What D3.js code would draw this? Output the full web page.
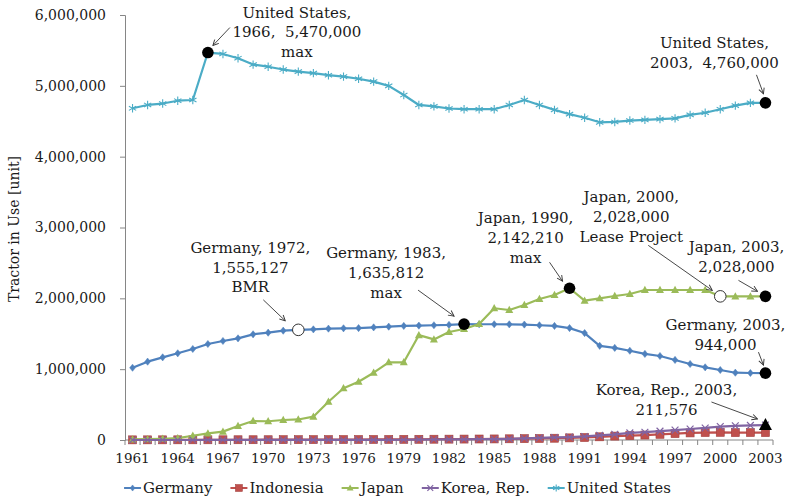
<!DOCTYPE html>
<html>
<head>
<meta charset="utf-8">
<script src="https://cdn.jsdelivr.net/npm/d3@7"></script>
<style>
  html, body { margin: 0; padding: 0; background: #fff; }
  svg { display: block; font-family: "DejaVu Serif", "Liberation Serif", serif; }
  .ann { white-space: pre; }
</style>
</head>
<body>
<svg id="chart" width="791" height="503"></svg>
<script>
// ---------------- data ----------------
const years = d3.range(1961, 2004);
const xTickYears = [1961,1964,1967,1970,1973,1976,1979,1982,1985,1988,1991,1994,1997,2000,2003];
const yTicks = [0,1000000,2000000,3000000,4000000,5000000,6000000];

const germany = [1020000,1106000,1167000,1224000,1285000,1355000,1398000,1435000,1492000,1515000,
  1543000,1555127,1562000,1572000,1577000,1580000,1590000,1600000,1610000,1615000,
  1620000,1625000,1635812,1634000,1634000,1633000,1630000,1620000,1610000,1580000,
  1510000,1330000,1300000,1260000,1215000,1186000,1130000,1073000,1026000,988000,
  950000,946000,944000];
const indonesia = [2000,2200,2400,2600,2800,3000,3200,3500,3800,4000,
  4500,5000,5500,6000,6500,7000,7500,8000,9000,10000,
  11000,12000,13000,14000,15000,17000,19000,21000,25000,30000,
  35000,45000,55000,62000,70000,80000,90000,100000,105000,108000,
  104000,105000,104000];
const japan = [8000,12000,18000,26000,60000,94000,118000,198000,268000,265000,
  282000,290000,329000,540000,730000,823000,950000,1097000,1097000,1480000,
  1420000,1525000,1567000,1638000,1860000,1835000,1906000,1990000,2047000,2142210,
  1967000,2000000,2033000,2061000,2118000,2118000,2118000,2118000,2118000,2028000,
  2028000,2028000,2028000];
const korea = [0,0,100,200,300,400,500,600,700,800,
  900,1000,1200,1400,600,800,1600,2400,3300,5000,
  7000,9000,10000,11000,12389,16000,22000,30000,36000,41203,
  50000,65000,80000,100000,110000,125000,140000,155000,170000,190000,
  200000,206000,211576];
const unitedStates = [4683000,4730000,4750000,4790000,4800000,5470000,5450000,5390000,5300000,5270000,
  5230000,5200000,5180000,5150000,5130000,5100000,5060000,5000000,4870000,4730000,
  4710000,4680000,4670000,4670000,4670000,4730000,4800000,4730000,4660000,4600000,
  4550000,4485000,4490000,4510000,4520000,4530000,4540000,4590000,4620000,4670000,
  4720000,4760000,4760000];

const seriesNames = ["Germany","Indonesia","Japan","Korea, Rep.","United States"];
const seriesValues = [germany, indonesia, japan, korea, unitedStates];
const seriesColors = ["#4F81BD","#C0504D","#9BBB59","#8064A2","#4BACC6"];
const seriesMarkers = ["diamond","square","triangle","x","star"];

// annotation texts (attached to data points)
const annotations = [
  {s:4, year:1966, lines:["United States,","1966,  5,470,000","max"], mark:"dot",
   dx:89, dy:-35, a:[22,-25,5,-7]},
  {s:4, year:2003, lines:["United States,","2003,  4,760,000"], mark:"dot",
   dx:-51, dy:-55, a:[-9,-28,-2,-9]},
  {s:0, year:1972, lines:["Germany, 1972,","1,555,127","BMR"], mark:"open",
   dx:-48, dy:-77, a:[-35,-30,-13,-9]},
  {s:0, year:1983, lines:["Germany, 1983,","1,635,812","max"], mark:"dot",
   dx:-78, dy:-66, a:[-46,-34,-10,-8]},
  {s:2, year:1990, lines:["Japan, 1990,","2,142,210","max"], mark:"dot",
   dx:-44, dy:-65, a:[-20,-26,-7,-7]},
  {s:2, year:2000, lines:["Japan, 2000,","2,028,000","Lease Project"], mark:"open",
   dx:-89, dy:-94, a:[-72,-51,-8,-6]},
  {s:2, year:2003, lines:["Japan, 2003,","2,028,000"], mark:"dot",
   dx:-29, dy:-44, a:[-27,-16,-8,-5]},
  {s:0, year:2003, lines:["Germany, 2003,","944,000"], mark:"dot",
   dx:-40, dy:-43, a:[-7,-21,-2,-8]},
  {s:3, year:2003, lines:["Korea, Rep., 2003,","211,576"], mark:"tri",
   dx:-99, dy:-30, a:[-54,-23,-8,-6]}
];

// ---------------- layout ----------------
const svg = d3.select("#chart");
const plot = {left:125, right:773, top:15, bottom:440};

const x = d3.scalePoint().domain(years).range([plot.left, plot.right]).padding(0.5);
const xBand = d3.scaleBand().domain(years).range([plot.left, plot.right]);
const y = d3.scaleLinear().domain([0, 6000000]).range([plot.bottom, plot.top]);

const axisColor = "#868686";
const textColor = "#1a1a1a";

// y axis
const yAxis = svg.append("g").attr("transform", `translate(${plot.left},0)`)
  .call(d3.axisLeft(y).tickValues(yTicks).tickFormat(d3.format(",")).tickSize(5).tickPadding(14));
yAxis.select(".domain").attr("stroke", axisColor).attr("stroke-width", 1);
yAxis.selectAll(".tick line").attr("stroke", axisColor);
yAxis.selectAll(".tick text").attr("fill", textColor).style("font-size", "14px")
  .style("font-family", '"DejaVu Serif", serif');

// x axis (category axis with boundary ticks)
const xg = svg.append("g").attr("transform", `translate(0,${plot.bottom})`);
xg.append("line").attr("x1", plot.left).attr("x2", plot.right).attr("y1", 0).attr("y2", 0)
  .attr("stroke", axisColor);
const boundaries = years.map(yr => xBand(yr)).concat([plot.right]);
xg.selectAll("line.tk").data(boundaries).join("line").attr("class","tk")
  .attr("x1", d => d).attr("x2", d => d).attr("y1", 0).attr("y2", 5).attr("stroke", axisColor);
xg.selectAll("text").data(xTickYears).join("text")
  .attr("x", d => x(d)).attr("y", 23).attr("text-anchor", "middle")
  .attr("fill", textColor).style("font-size", "13.5px").text(d => d);

// y title
svg.append("text").attr("transform", "translate(19,229) rotate(-90)")
  .attr("text-anchor", "middle").attr("fill", textColor).style("font-size", "14px")
  .text("Tractor in Use [unit]");

// marker drawing
function drawMarker(g, type, color, size) {
  const s = size;
  if (type === "diamond") {
    g.append("path").attr("d", `M0,${-s}L${s*0.8},0L0,${s}L${-s*0.8},0Z`).attr("fill", color).attr("stroke", color).attr("stroke-width", 0.5);
  } else if (type === "square") {
    g.append("rect").attr("x", -s).attr("y", -s).attr("width", 2*s).attr("height", 2*s)
      .attr("fill", color).attr("stroke", "#A33F3C").attr("stroke-width", 0.6);
  } else if (type === "triangle") {
    g.append("path").attr("d", `M0,${-s*1.1}L${s*1.05},${s*0.8}L${-s*1.05},${s*0.8}Z`).attr("fill", color);
  } else if (type === "x") {
    g.append("path").attr("d", `M${-s},${-s}L${s},${s}M${-s},${s}L${s},${-s}`).attr("stroke", color).attr("stroke-width", 1.2).attr("fill", "none");
  } else if (type === "star") {
    g.append("path").attr("d", `M0,${-s}L0,${s}M${-s*0.87},${-s*0.5}L${s*0.87},${s*0.5}M${-s*0.87},${s*0.5}L${s*0.87},${-s*0.5}`)
      .attr("stroke", color).attr("stroke-width", 1.1).attr("fill", "none");
  }
}
const markerSizes = {diamond:3.6, square:4, triangle:3.8, x:3.4, star:4.2};

seriesValues.forEach((vals, si) => {
  const color = seriesColors[si];
  svg.append("path").datum(vals).attr("d", d3.line().x((d,i)=>x(years[i])).y(d=>y(d)))
    .attr("fill", "none").attr("stroke", color).attr("stroke-width", 2.2)
    .attr("stroke-linejoin", "round");
  vals.forEach((v, i) => {
    const g = svg.append("g").attr("transform", `translate(${x(years[i])},${y(v)})`);
    drawMarker(g, seriesMarkers[si], color, markerSizes[seriesMarkers[si]]);
  });
});

// arrowhead
svg.append("defs").append("marker").attr("id", "arr")
  .attr("viewBox", "0 0 10 10").attr("refX", 9).attr("refY", 5)
  .attr("markerWidth", 7).attr("markerHeight", 7).attr("markerUnits", "userSpaceOnUse")
  .attr("orient", "auto")
  .append("path").attr("d", "M1,1L9,5L1,9").attr("fill", "none").attr("stroke", "#333").attr("stroke-width", 1.3);

// annotations
annotations.forEach(a => {
  const i = years.indexOf(a.year);
  const px = x(a.year), py = y(seriesValues[a.s][i]);
  if (a.mark === "dot") {
    svg.append("circle").attr("cx", px).attr("cy", py).attr("r", 5.8).attr("fill", "#000");
  } else if (a.mark === "open") {
    svg.append("circle").attr("cx", px).attr("cy", py).attr("r", 5.8).attr("fill", "#fff")
      .attr("stroke", "#333").attr("stroke-width", 1);
  } else if (a.mark === "tri") {
    svg.append("path").attr("transform", `translate(${px},${py})`)
      .attr("d", "M0,-7L6.5,5L-6.5,5Z").attr("fill", "#000");
  }
  svg.append("line").attr("x1", px + a.a[0]).attr("y1", py + a.a[1])
    .attr("x2", px + a.a[2]).attr("y2", py + a.a[3])
    .attr("stroke", "#333").attr("stroke-width", 0.9).attr("marker-end", "url(#arr)");
  const t = svg.append("text").attr("class", "ann").attr("text-anchor", "middle").attr("fill", textColor)
    .attr("xml:space", "preserve").style("font-size", "15px");
  a.lines.forEach((ln, k) => {
    t.append("tspan").attr("x", px + a.dx).attr("y", py + a.dy + k * 19.7).text(ln);
  });
});

// legend
const legend = svg.append("g");
let lx = 0;
seriesNames.forEach((name, si) => {
  const g = legend.append("g").attr("transform", `translate(${lx},0)`);
  g.append("line").attr("x1", 0).attr("x2", 17).attr("y1", 0).attr("y2", 0)
    .attr("stroke", seriesColors[si]).attr("stroke-width", 2);
  const m = g.append("g").attr("transform", "translate(8.5,0)");
  drawMarker(m, seriesMarkers[si], seriesColors[si], markerSizes[seriesMarkers[si]] * 0.85);
  const tx = g.append("text").attr("x", 19).attr("y", 5).attr("fill", textColor)
    .style("font-size", "15px").text(name);
  lx += 19 + tx.node().getComputedTextLength() + 18;
});
const lw = lx - 18;
legend.attr("transform", `translate(${397.5 - lw / 2},488)`);
</script>
</body>
</html>
